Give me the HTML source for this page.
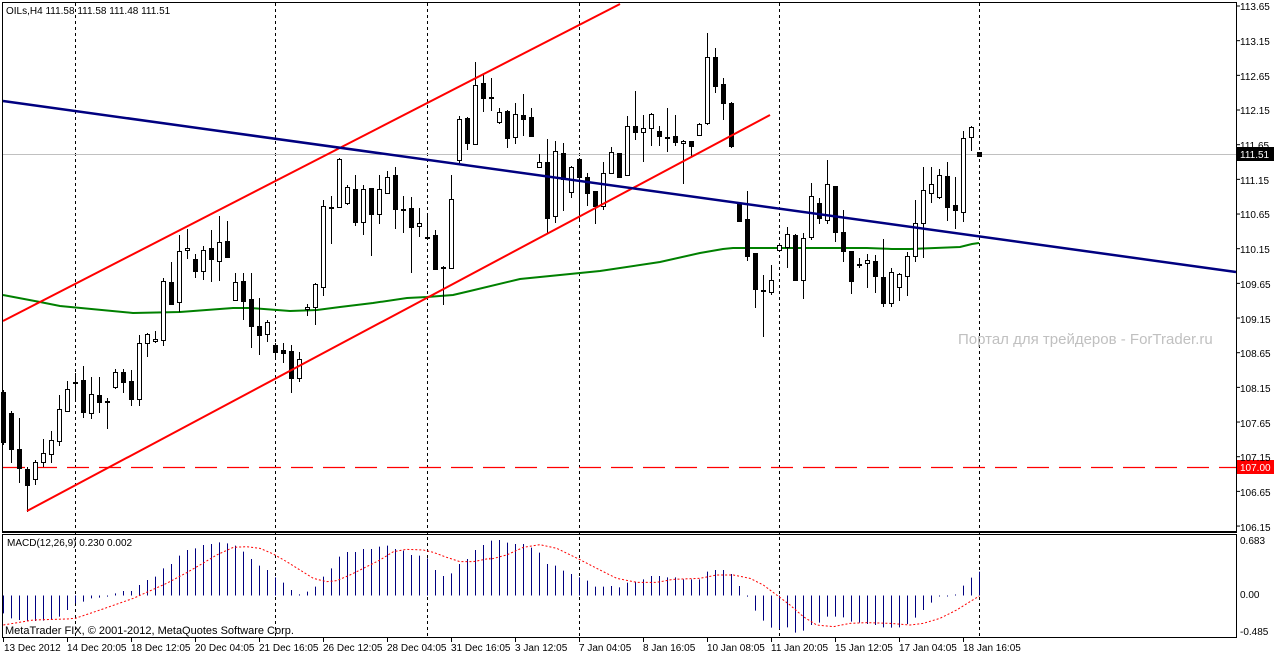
<!DOCTYPE html>
<html><head><meta charset="utf-8"><style>
html,body{margin:0;padding:0;background:#fff;width:1274px;height:655px;overflow:hidden}
svg{display:block}
text{font-family:"Liberation Sans",sans-serif;font-size:10px;fill:#000}
</style></head><body>
<svg id="s" width="1274" height="655" xmlns="http://www.w3.org/2000/svg">
<rect x="0" y="0" width="1274" height="655" fill="#fff"/>
<g id="grid"></g>
<line x1="3" y1="154.5" x2="1236" y2="154.5" stroke="#c0c0c0" stroke-width="1"/>
<line x1="3" y1="467.5" x2="1236" y2="467.5" stroke="#ff0000" stroke-width="1.2" stroke-dasharray="22,10"/>
<text x="958" y="344" style="font-size:15px;fill:#c0c0c0">Портал для трейдеров - ForTrader.ru</text>
<g id="ma"></g>
<g id="cd"></g>
<line x1="3" y1="321" x2="620" y2="4" stroke="#ff0000" stroke-width="2"/>
<line x1="27" y1="511" x2="770" y2="115" stroke="#ff0000" stroke-width="2"/>
<line x1="3" y1="101" x2="1236" y2="272" stroke="#000080" stroke-width="2.5"/>
<g id="mh"></g>
<!-- frames -->
<rect x="2.5" y="2.5" width="1234" height="529" fill="none" stroke="#000" stroke-width="1"/>
<rect x="2.5" y="534.5" width="1234" height="103" fill="none" stroke="#000" stroke-width="1"/>
<line x1="2" y1="532.5" x2="1237" y2="532.5" stroke="#000" stroke-width="1"/>
<text x="6" y="14">OILs,H4 111.58 111.58 111.48 111.51</text>
<text x="7" y="546">MACD(12,26,9) 0.230 0.002</text>
<text x="5" y="634" style="font-size:11px">MetaTrader FIX, © 2001-2012, MetaQuotes Software Corp.</text>
<g id="ax"></g>
<rect x="1237" y="147" width="37" height="14" fill="#000"/>
<text x="1240" y="158" style="fill:#fff">111.51</text>
<rect x="1237" y="460" width="37" height="14" fill="#ff0000"/>
<text x="1240" y="471" style="fill:#fff">107.00</text>
<text x="1240" y="544">0.683</text>
<text x="1240" y="598">0.00</text>
<text x="1240" y="635">-0.485</text>
<text x="4" y="651">13 Dec 2012</text>
<text x="67" y="651">14 Dec 20:05</text>
<text x="131" y="651">18 Dec 12:05</text>
<text x="195" y="651">20 Dec 04:05</text>
<text x="259" y="651">21 Dec 16:05</text>
<text x="323" y="651">26 Dec 12:05</text>
<text x="387" y="651">28 Dec 04:05</text>
<text x="451" y="651">31 Dec 16:05</text>
<text x="515" y="651">3 Jan 12:05</text>
<text x="579" y="651">7 Jan 04:05</text>
<text x="643" y="651">8 Jan 16:05</text>
<text x="707" y="651">10 Jan 08:05</text>
<text x="771" y="651">11 Jan 20:05</text>
<text x="835" y="651">15 Jan 12:05</text>
<text x="899" y="651">17 Jan 04:05</text>
<text x="963" y="651">18 Jan 16:05</text>
<text x="1240" y="10">113.65</text>
<text x="1240" y="45">113.15</text>
<text x="1240" y="80">112.65</text>
<text x="1240" y="114">112.15</text>
<text x="1240" y="149">111.65</text>
<text x="1240" y="184">111.15</text>
<text x="1240" y="218">110.65</text>
<text x="1240" y="253">110.15</text>
<text x="1240" y="288">109.65</text>
<text x="1240" y="323">109.15</text>
<text x="1240" y="357">108.65</text>
<text x="1240" y="392">108.15</text>
<text x="1240" y="427">107.65</text>
<text x="1240" y="461">107.15</text>
<text x="1240" y="496">106.65</text>
<text x="1240" y="531">106.15</text>
</svg>
<script>
var NS="http://www.w3.org/2000/svg";
function el(p,t,a){var e=document.createElementNS(NS,t);for(var k in a)e.setAttribute(k,a[k]);document.getElementById(p).appendChild(e);return e;}
// vertical dotted grid
[75.5,275.5,427.5,579.5,779.5,979.5].forEach(function(x){el("grid","line",{x1:x,y1:3,x2:x,y2:637,stroke:"#000","stroke-width":1,"stroke-dasharray":"3,3"});});
// axis ticks
for(var i=0;i<16;i++){var y=6+i*34.67;el("ax","line",{x1:1236,y1:y,x2:1240,y2:y,stroke:"#000"});}
for(var i=0;i<16;i++){var x=3.5+i*64;el("ax","line",{x1:x,y1:638,x2:x,y2:642,stroke:"#000"});}
// green MA
var g=[[3,295],[40,302],[60,306],[133,313],[180,312],[233,308],[250,308],[290,311],[317,310],[340,307],[373,303],[407,298],[427,297],[453,295],[470,291],[520,279],[600,271],[660,262],[700,253],[723,249],[733,248],[753,248],[830,248],[867,248],[892,249],[910,249],[960,247],[972,244],[979,243]];
el("ma","polyline",{points:g.map(function(p){return p.join(",")}).join(" "),fill:"none",stroke:"#008000","stroke-width":2});
// candles
var C=[[390,392,442,445,0],[411,413,449,463,0],[418,449,468,483,0],[467,469,485,512,0],[460,462,479,485,1],[439,453,462,467,1],[431,440,454,463,1],[395,409,441,446,1],[381,389,411,412,1],[373,382,382,400,1],[366,380,412,418,0],[377,394,413,419,1],[377,395,402,413,0],[398,401,401,429,1],[369,372,387,389,1],[369,372,382,393,0],[370,381,399,406,0],[335,343,399,406,1],[333,334,343,357,1],[331,339,341,343,1],[278,281,340,346,1],[262,282,304,304,0],[235,251,302,312,1],[229,248,250,259,1],[254,259,271,278,0],[246,250,271,280,1],[230,248,259,282,0],[216,242,261,281,1],[221,241,257,257,0],[273,282,300,301,1],[273,281,301,320,0],[273,299,326,348,0],[298,326,335,355,0],[320,322,334,342,1],[343,345,352,358,0],[343,350,353,363,0],[345,351,378,393,0],[352,359,378,382,1],[304,307,309,316,1],[283,284,307,325,1],[200,206,287,296,1],[196,207,207,244,1],[158,159,207,207,1],[185,187,203,205,1],[175,189,222,226,0],[185,189,222,235,1],[188,188,214,256,0],[175,189,214,224,1],[171,177,193,193,1],[167,175,209,229,0],[196,209,209,233,1],[197,208,227,273,0],[208,223,226,237,1],[216,237,237,240,1],[230,235,269,270,0],[266,267,267,305,1],[175,199,268,269,1],[116,119,160,163,1],[117,118,143,150,0],[62,85,144,145,1],[75,83,98,112,0],[78,97,97,111,1],[108,112,122,124,1],[110,111,138,148,0],[103,114,137,144,1],[94,115,119,136,0],[108,117,136,137,0],[154,162,167,167,1],[139,162,218,233,0],[141,151,216,223,1],[143,153,179,211,0],[166,167,192,198,1],[158,159,177,220,0],[173,177,193,206,0],[191,191,206,224,0],[162,173,206,210,1],[147,152,173,173,1],[153,153,177,178,0],[116,126,175,175,1],[91,126,132,140,0],[115,128,132,162,1],[113,114,128,146,1],[126,131,136,146,0],[108,137,137,152,1],[115,136,142,146,0],[140,141,143,184,1],[141,141,146,156,0],[123,124,135,136,1],[33,57,123,125,1],[48,57,86,93,0],[78,84,103,120,0],[102,103,146,148,0],[203,203,221,222,0],[191,219,256,261,0],[253,253,289,308,0],[275,290,290,337,1],[265,280,292,295,1],[243,245,250,251,1],[227,234,247,268,1],[234,235,280,280,0],[233,238,280,299,1],[183,196,237,240,1],[198,203,218,224,0],[160,184,220,224,1],[186,186,232,242,0],[210,232,251,262,0],[251,251,281,294,0],[258,264,264,268,1],[254,260,263,288,1],[255,261,276,293,0],[239,277,303,307,0],[268,272,303,307,1],[273,274,287,301,1],[252,256,276,296,1],[200,223,256,262,1],[167,190,223,258,1],[167,184,193,203,1],[169,175,197,199,1],[162,176,207,221,0],[177,205,210,229,0],[131,138,212,222,1],[126,127,137,151,1],[152,152,156,156,0]];
C.forEach(function(c,i){var x=Math.round(3+8*i);
 el("cd","line",{x1:x+0.5,y1:c[0],x2:x+0.5,y2:c[3],stroke:"#000","stroke-width":1});
 var h=Math.max(c[2]-c[1],1);
 el("cd","rect",{x:x-1.5,y:c[1]+0.5,width:4,height:h,fill:c[4]?"#fff":"#000",stroke:"#000","stroke-width":1});
});
// MACD histogram
var H=[250,265,270,273,273,272,270,260,240,220,215,205,203,200,190,183,183,165,150,140,115,102,77,60,55,45,42,37,40,47,65,87,107,120,142,158,180,193,185,170,140,115,80,66,66,57,57,50,47,57,62,75,77,85,120,138,130,102,87,60,45,
32,30,38,42,42,53,68,102,107,122,132,142,152,170,170,168,172,158,155,148,138,138,142,142,148,148,148,125,120,120,132,168,200,242,272,293,297,292,308,302,285,278,260,260,262,275,278,282,285,292,293,292,282,263,240,218,198,197,194,167,143,125];
var z=595.5;
H.forEach(function(v,i){var x=Math.round(3+8*i)+0.5;var y=530+v/3;if(Math.abs(y-z)<1)y=z+(y<z?-1:1);
 el("mh","line",{x1:x,y1:z,x2:x,y2:y,stroke:"#000080","stroke-width":1});});
// signal
var S1=[[10,285],[100,270],[200,267],[226,265],[300,240],[400,205],[500,160],[560,128],[600,105],[650,75],[700,52],[740,50],[780,55],[820,72],[860,95],[900,120],[940,145],[980,155],[1010,152],[1050,135],[1100,110],[1140,90],[1180,65],[1220,58],[1270,60],[1300,67],[1340,82],[1380,95],[1420,95],[1470,85]];
var S2=[[0,88],[50,75],[100,52],[150,44],[200,55],[268,88],[320,115],[380,145],[440,157],[500,157],[550,148],[630,145],[680,135],[730,135],[780,145],[820,165],[860,195],[900,225],[940,260],[980,285],[1030,290],[1080,280],[1130,278],[1200,280],[1260,285],[1300,280],[1350,265],[1400,240],[1440,215],[1468,198]];
var pts=S1.map(function(p){return (p[0]/3)+","+(530+p[1]/3)}).concat(S2.map(function(p){return (490+p[0]/3)+","+(530+p[1]/3)}));
el("mh","polyline",{points:pts.join(" "),fill:"none",stroke:"#ff0000","stroke-width":1,"stroke-dasharray":"2,2"});
</script>
</body></html>
